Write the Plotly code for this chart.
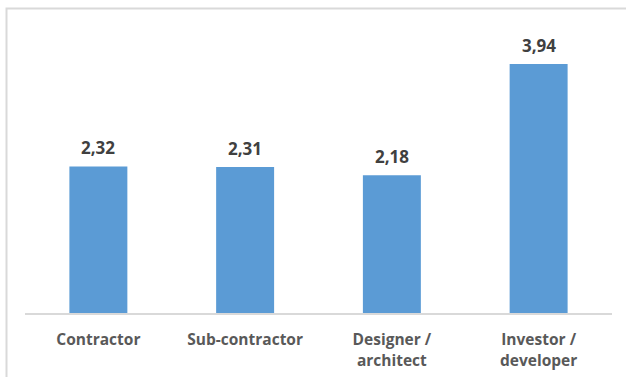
import plotly.graph_objects as go

categories = ["Contractor", "Sub-contractor", "Designer /<br>architect", "Investor /<br>developer"]
values = [2.32, 2.31, 2.18, 3.94]

W, H = 626, 377
ml, mr, mt, mb = 25, 14, 30, 64
ymax = 4.48

fig = go.Figure()
fig.add_trace(go.Bar(
    x=categories, y=values,
    marker=dict(color="#5B9BD5", line=dict(width=0)),
    hoverinfo="skip",
))

for c, v in zip(categories, values):
    fig.add_annotation(
        x=c, y=v, xref="x", yref="y",
        text="<b>" + f"{v:.2f}".replace(".", ",") + "</b>",
        showarrow=False, yanchor="bottom", yshift=5,
        font=dict(family="Open Sans", size=17, color="#404040"),
    )

pw = W - ml - mr
ph = H - mt - mb
fig.add_shape(
    type="rect", xref="paper", yref="paper",
    x0=(6.5 - ml) / pw, x1=(640 - ml) / pw,
    y0=-(400 - mt - ph) / ph, y1=1 + (mt - 8.5) / ph,
    line=dict(color="#D9D9D9", width=2), fillcolor="rgba(0,0,0,0)", layer="below",
)

fig.update_layout(
    width=W, height=H,
    margin=dict(l=ml, r=mr, t=mt, b=mb, pad=0, autoexpand=False),
    paper_bgcolor="white", plot_bgcolor="white",
    bargap=0.605,
    showlegend=False,
    separators=",.",
    xaxis=dict(
        showline=True, linecolor="#D9D9D9", linewidth=1.5,
        showgrid=False, ticks="", zeroline=False, automargin=False,
        ticklabelstandoff=12,
        tickfont=dict(family="Open Sans", size=15.5, color="#595959", weight="bold"),
        fixedrange=True,
    ),
    yaxis=dict(
        range=[0, ymax], visible=False, showgrid=False, zeroline=False, fixedrange=True,
        automargin=False,
    ),
)

fig.write_html("out.html", config={"displayModeBar": False})
